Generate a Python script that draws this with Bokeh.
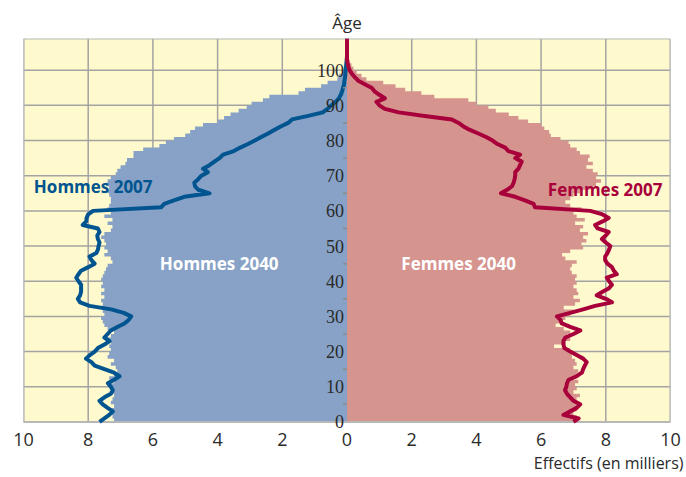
from bokeh.plotting import figure
from bokeh.models import FixedTicker, Label, LabelSet, ColumnDataSource, Range1d, Title
from bokeh.embed import file_html
from bokeh.resources import INLINE

# ---------------- data ----------------
ages_bars = list(range(109))
men_2040 = [
    7.2, 7.25, 7.3, 7.3, 7.2, 7.3, 7.25, 7.2, 7.3, 7.25,
    7.3, 7.2, 7.35, 7.2, 7.1, 7.15, 7.3, 7.2, 7.4, 7.35,
    7.3, 7.35, 7.3, 7.4, 7.3, 7.2, 7.4, 7.5, 7.55, 7.6,
    7.5, 7.55, 7.6, 7.55, 7.6, 7.5, 7.6, 7.5, 7.6, 7.55,
    7.6, 7.55, 7.5, 7.45, 7.4, 7.25, 7.3, 7.5, 7.4, 7.5,
    7.45, 7.5, 7.6, 7.5, 7.3, 7.25, 7.4, 7.25, 7.5, 7.3,
    7.4, 7.35, 7.3, 7.3, 7.35, 7.4, 7.35, 7.45, 7.4, 7.3,
    7.15, 7.1, 7.0, 6.85, 6.8, 6.6, 6.6, 6.3, 5.8, 5.6,
    5.35, 5.0, 4.85, 4.7, 4.45, 4.0, 3.8, 3.6, 3.35, 3.1,
    2.95, 2.6, 2.4, 1.5, 1.3, 0.8, 0.6, 0.3, 0.25, 0.15,
    0.1, 0.07, 0.05, 0.03, 0.02, 0.01, 0.01, 0.0, 0.0,
]
women_2040 = [
    7.05, 7.1, 7.0, 7.1, 7.15, 7.05, 7.1, 7.2, 7.0, 7.1,
    7.05, 7.15, 7.0, 7.1, 7.15, 7.0, 7.1, 7.05, 6.95, 7.05,
    6.9, 6.4, 6.75, 6.9, 6.8, 6.9, 6.7, 6.45, 6.6, 6.75,
    6.9, 7.0, 6.7, 7.05, 7.2, 7.0, 7.15, 7.1, 7.0, 7.1,
    7.05, 7.1, 6.95, 6.9, 6.95, 7.1, 6.75, 6.65, 6.9, 7.3,
    7.25, 7.4, 7.3, 7.45, 7.2, 7.3, 7.05, 7.35, 7.1, 7.0,
    7.25, 6.9, 6.75, 6.9, 7.0, 7.2, 7.5, 7.7, 7.85, 7.7,
    7.75, 7.6, 7.4, 7.6, 7.45, 7.5, 7.2, 7.1, 6.9, 6.85,
    6.6, 6.3, 6.25, 6.1, 6.0, 5.6, 5.3, 5.0, 4.6, 4.37,
    4.0, 3.75, 2.7, 2.3, 1.8, 1.5, 1.12, 0.6, 0.45, 0.3,
    0.2, 0.14, 0.08, 0.05, 0.03, 0.02, 0.01, 0.0, 0.0,
]

ages_lines = list(range(110))
men_2007 = [
    7.65, 7.5, 7.35, 7.24, 7.4, 7.55, 7.65, 7.5, 7.3, 7.24,
    7.3, 7.39, 7.2, 7.03, 7.2, 7.5, 7.8, 7.9, 8.07, 7.95,
    7.8, 7.7, 7.5, 7.34, 7.5, 7.4, 7.3, 7.1, 6.88, 6.75,
    6.67, 6.9, 7.29, 7.96, 8.25, 8.32, 8.25, 8.22, 8.22, 8.22,
    8.3, 8.37, 8.3, 8.22, 8.0, 7.8, 7.9, 7.96, 7.75, 7.7,
    7.68, 7.65, 7.7, 7.72, 7.65, 7.7, 8.17, 8.06, 8.05, 8.0,
    7.85, 5.75, 5.65, 5.35, 5.03, 4.25, 4.6, 4.7, 4.72, 4.6,
    4.5, 4.3, 4.45, 4.25, 4.1, 3.94, 3.83, 3.5, 3.3, 3.06,
    2.85, 2.65, 2.44, 2.25, 2.05, 1.82, 1.7, 1.2, 0.75, 0.6,
    0.48, 0.35, 0.25, 0.19, 0.15, 0.12, 0.09, 0.08, 0.06, 0.05,
    0.04, 0.03, 0.02, 0.01, 0.0, 0.0, 0.0, 0.0, 0.0, 0.0,
]
women_2007 = [
    7.0, 7.16, 6.69, 6.9, 7.1, 7.21, 7.0, 6.9, 6.8, 6.74,
    6.78, 6.8, 6.85, 7.1, 7.26, 7.3, 7.35, 7.41, 7.3, 7.1,
    6.9, 6.72, 6.69, 6.69, 6.75, 7.0, 7.21, 6.9, 6.64, 6.6,
    6.49, 6.9, 7.3, 7.67, 8.19, 8.0, 7.72, 7.9, 8.1, 8.19,
    8.1, 8.03, 8.34, 8.25, 8.19, 8.05, 7.98, 7.98, 8.05, 8.1,
    8.14, 8.0, 7.88, 8.0, 8.09, 7.75, 7.67, 7.9, 8.09, 7.9,
    7.52, 5.81, 5.77, 5.5, 5.2, 4.76, 4.95, 5.1, 5.15, 5.18,
    5.2, 5.2, 5.3, 5.35, 5.4, 5.2, 5.35, 4.99, 4.89, 4.65,
    4.5, 4.3, 4.06, 3.8, 3.6, 3.45, 3.24, 2.4, 1.6, 1.17,
    1.0, 0.91, 1.17, 1.0, 0.85, 0.76, 0.55, 0.35, 0.24, 0.15,
    0.08, 0.04, 0.02, 0.0, 0.0, 0.0, 0.0, 0.0, 0.0, 0.0,
]

x_ticks = [-10, -8, -6, -4, -2, 0, 2, 4, 6, 8, 10]
x_tick_labels = ["10", "8", "6", "4", "2", "0", "2", "4", "6", "8", "10"]
y_ticks = [0, 10, 20, 30, 40, 50, 60, 70, 80, 90, 100]
y_tick_labels = ["0", "10", "20", "30", "40", "50", "60", "70", "80", "90", "100"]
y_minor_ticks = [5, 15, 25, 35, 45, 55, 65, 75, 85, 95]
x_min, x_max, age_min, age_max = -10, 10, 0, 109

# ---------------- style ----------------
FONT = "Open Sans"
BLUE_BAR = "#87A2C6"
PINK_BAR = "#D6948F"
BLUE_LINE = "#00548F"
RED_LINE = "#A8003A"
BG = "#FFFACD"
GRID = "#A3A3A3"
TXT = "#2A2A2A"


def step_outline(ages, values, sign):
    """Pyramid side as one stepped polygon (one 1-year band per value)."""
    xs, ys = [0], [ages[0]]
    for a, v in zip(ages, values):
        xs += [sign * v, sign * v]
        ys += [a, a + 1]
    xs.append(0)
    ys.append(ages[-1] + 1)
    return xs, ys


p = figure(width=686, height=477, output_backend="svg", toolbar_location=None,
           x_range=Range1d(x_min, x_max), y_range=Range1d(age_min - 3, age_max),
           y_axis_location=None,
           min_border_left=23, min_border_right=16, min_border_top=38, min_border_bottom=45)

p.background_fill_color = "white"
p.border_fill_color = "white"
p.outline_line_color = None
p.grid.visible = False

p.title.text = "Âge"
p.title.align = "center"
p.title.text_font = FONT
p.title.text_font_size = "17px"
p.title.text_font_style = "normal"
p.title.text_color = TXT
p.title.standoff = 10

p.xaxis.ticker = FixedTicker(ticks=x_ticks)
p.xaxis.major_label_overrides = dict(zip(x_ticks, x_tick_labels))
p.xaxis.major_label_text_font = FONT
p.xaxis.major_label_text_font_size = "18px"
p.xaxis.major_label_text_color = TXT
p.xaxis.major_label_standoff = 0
p.xaxis.axis_line_color = None
p.xaxis.major_tick_line_color = None
p.xaxis.minor_tick_line_color = None
p.xaxis.major_tick_out = 0
p.xaxis.major_tick_in = 0

p.add_layout(Title(text="Effectifs (en milliers)", align="right", text_font=FONT,
                   text_font_size="16px", text_font_style="normal", text_color=TXT,
                   offset=-13, standoff=2), "below")

# yellow plotting area, grid and frame (ages 0..109)
p.quad(left=x_min, right=x_max, bottom=age_min, top=age_max, fill_color=BG, line_color=None)
p.segment(x0=x_ticks, x1=x_ticks, y0=age_min, y1=age_max, line_color=GRID, line_width=1.5)
p.segment(x0=x_min, x1=x_max, y0=y_ticks, y1=y_ticks, line_color=GRID, line_width=1.5)

mx, my = step_outline(ages_bars, men_2040, -1)
fx, fy = step_outline(ages_bars, women_2040, 1)
p.patch(x=mx, y=my, fill_color=BLUE_BAR, line_color=None)
p.patch(x=fx, y=fy, fill_color=PINK_BAR, line_color=None)

p.quad(left=x_min, right=x_max, bottom=age_min, top=age_max, fill_color=None,
       line_color="#B8B8B8", line_width=2)

p.line(x=[-v for v in men_2007], y=ages_lines, line_color=BLUE_LINE, line_width=4,
       line_join="round")
p.line(x=women_2007, y=ages_lines, line_color=RED_LINE, line_width=4,
       line_join="round")

# small tick marks at x = 0
p.segment(x0=-0.12, x1=0, y0=y_minor_ticks, y1=y_minor_ticks, line_color="#8A8A8A",
          line_width=1.5)

# central age tick labels
ysrc = ColumnDataSource(dict(x=[0] * len(y_ticks), y=y_ticks, text=y_tick_labels))
p.add_layout(LabelSet(x="x", y="y", text="text", source=ysrc, x_offset=-3,
                      text_align="right", text_baseline="middle",
                      text_font=FONT, text_font_size="18px", text_color=TXT))

def lab(x, y, text, color, align):
    p.add_layout(Label(x=x, y=y, text=text, text_color=color, text_align=align,
                       text_baseline="middle", text_font=FONT, text_font_size="17px",
                       text_font_style="bold"))

lab(-9.68, 66.8, "Hommes 2007", BLUE_LINE, "left")
lab(9.75, 66.2, "Femmes 2007", RED_LINE, "right")
lab(-3.95, 45, "Hommes 2040", "white", "center")
lab(3.45, 45, "Femmes 2040", "white", "center")

open("out.html", "w").write(file_html(p, INLINE))
